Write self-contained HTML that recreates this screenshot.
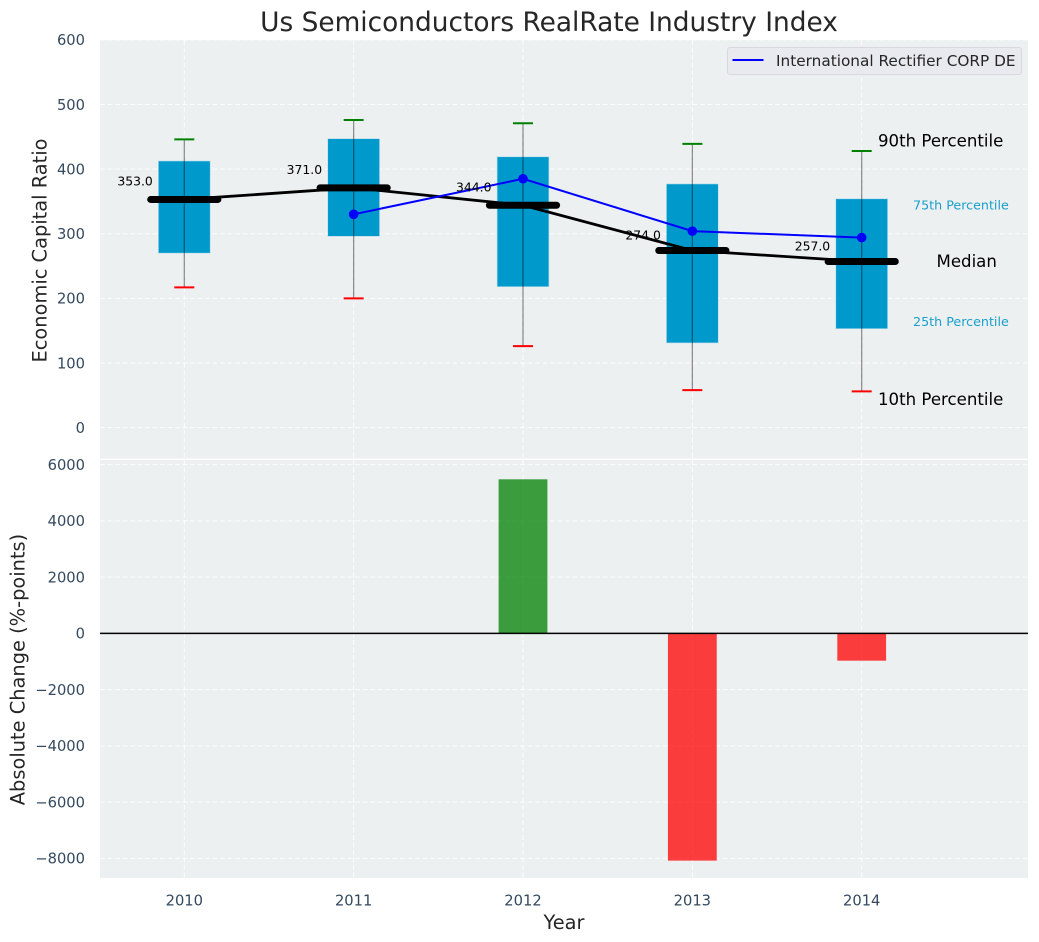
<!DOCTYPE html>
<html>
<head>
<meta charset="utf-8">
<title>Us Semiconductors RealRate Industry Index</title>
<style>
html,body{margin:0;padding:0;background:#fff;}
svg{display:block;font-family:"DejaVu Sans","Liberation Sans",sans-serif;}
</style>
</head>
<body>
<svg id="chart" xmlns="http://www.w3.org/2000/svg" width="1039" height="942" viewBox="0 0 1039 942">
<rect x="0" y="0" width="1039" height="942" fill="#ffffff"/>
<text x="549" y="31" text-anchor="middle" font-size="26.4px" fill="#262626">Us Semiconductors RealRate Industry Index</text>
<rect x="100" y="40" width="928" height="418.5" fill="#ecf0f1"/>
<rect x="100" y="460" width="928" height="418" fill="#ecf0f1"/>
<g id="grid"></g>
<g id="bars"></g>
<g id="boxes"></g>
<g id="lines"></g>
<g id="labels"></g>
<text transform="translate(46.5,250.5) rotate(-90)" text-anchor="middle" font-size="19.4px" fill="#262626">Economic Capital Ratio</text>
<text transform="translate(24.5,669.5) rotate(-90)" text-anchor="middle" font-size="19.4px" fill="#262626">Absolute Change (%-points)</text>
<text x="564" y="929" text-anchor="middle" font-size="19.4px" fill="#262626">Year</text>
<g>
<rect x="727.5" y="47.5" width="294" height="27" rx="2.5" fill="#e9eaf0" stroke="#d8d8de" stroke-width="1"/>
<line x1="732.5" y1="60" x2="763.5" y2="60" stroke="#0000ff" stroke-width="2"/>
<text x="776" y="66" font-size="15.3px" fill="#262626">International Rectifier CORP DE</text>
</g>
</svg>
<script>
const years = [2010, 2011, 2012, 2013, 2014];
const p10 = [217, 200, 126, 58, 56];
const p25 = [270, 296, 218, 131, 153];
const medians = [353, 371, 344, 274, 257];
const p75 = [412.5, 447, 419, 377, 354];
const p90 = [446, 476, 471, 439, 428];
const companyYears = [2011, 2012, 2013, 2014];
const companyValues = [330, 385, 304, 294];
const changeYears = [2012, 2013, 2014];
const changeValues = [5480, -8080, -970];
const topTicks = [0, 100, 200, 300, 400, 500, 600];
const bottomTicks = [-8000, -6000, -4000, -2000, 0, 2000, 4000, 6000];

const NS = 'http://www.w3.org/2000/svg';
function x(v){ return 184.3 + (v - 2010) * 169.35; }
function yTop(v){ return 427.6 - v * 0.6463; }
function yBottom(v){ return 633.4 - v * 0.02812; }
function make(parent, tag, props, text){
  const el = document.createElementNS(NS, tag);
  for (const k in props) el.setAttribute(k, props[k]);
  if (text !== undefined) el.textContent = text;
  parent.appendChild(el);
  return el;
}
const gGrid = document.getElementById('grid');
const gBars = document.getElementById('bars');
const gBoxes = document.getElementById('boxes');
const gLines = document.getElementById('lines');
const gLabels = document.getElementById('labels');
const gridStyle = {stroke:'#ffffff','stroke-width':1,'stroke-dasharray':'5 2.5','stroke-opacity':0.85};

topTicks.forEach(function(t){
  const gl = make(gGrid, 'line', Object.assign({x1:100,x2:1028,y1:yTop(t),y2:yTop(t)}, gridStyle));
  
  
  const lb = make(gLabels, 'text', {x:85,y:yTop(t)+5.3,'text-anchor':'end','font-size':'14.7px',fill:'#34495e'}, String(t));
  
  
});
bottomTicks.forEach(function(t){
  const gl = make(gGrid, 'line', Object.assign({x1:100,x2:1028,y1:yBottom(t),y2:yBottom(t)}, gridStyle));
  
  
  const lb = make(gLabels, 'text', {x:85,y:yBottom(t)+5.3,'text-anchor':'end','font-size':'14.7px',fill:'#34495e'}, String(t).replace('-', '\u2212'));
  
  
});
years.forEach(function(yr){
  const g1 = make(gGrid, 'line', Object.assign({x1:x(yr),x2:x(yr),y1:40,y2:458.5}, gridStyle));
  
  
  const g2 = make(gGrid, 'line', Object.assign({x1:x(yr),x2:x(yr),y1:460,y2:878}, gridStyle));
  
  
  const lb = make(gLabels, 'text', {x:x(yr),y:905.3,'text-anchor':'middle','font-size':'14.7px',fill:'#34495e'}, String(yr));
  
  
});

changeYears.forEach(function(yr, i){
  const v = changeValues[i];
  const bar = make(gBars, 'rect', {
    x:x(yr)-24.4, width:48.8,
    y:Math.min(yBottom(v), yBottom(0)),
    height:Math.abs(yBottom(v)-yBottom(0)),
    fill:v >= 0 ? '#008000' : '#ff0000', 'fill-opacity':0.75
  });
  
  
});
const zero = make(gBars, 'line', {x1:100,x2:1028,y1:yBottom(0),y2:yBottom(0),stroke:'#000000','stroke-width':1.5});



years.forEach(function(yr, i){
  const cx = x(yr);
  const box = make(gBoxes, 'rect', {x:cx-25.9,width:51.8,y:yTop(p75[i]),height:yTop(p25[i])-yTop(p75[i]),fill:'#0099cc',stroke:'#b5dcea','stroke-width':0.6});
  
  
  const whisker = make(gBoxes, 'line', {x1:cx,x2:cx,y1:yTop(p10[i]),y2:yTop(p90[i]),stroke:'#000000','stroke-opacity':0.45,'stroke-width':1.2});
  
  
  const capHi = make(gBoxes, 'line', {x1:cx-10,x2:cx+10,y1:yTop(p90[i]),y2:yTop(p90[i]),stroke:'#008000','stroke-width':2});
  
  
  const capLo = make(gBoxes, 'line', {x1:cx-10,x2:cx+10,y1:yTop(p10[i]),y2:yTop(p10[i]),stroke:'#ff0000','stroke-width':2});
  
  
});

const medianLine = make(gLines, 'polyline', {
  points:years.map(function(yr, i){ return x(yr)+','+yTop(medians[i]); }).join(' '),
  fill:'none',stroke:'#000000','stroke-width':2.8
});



years.forEach(function(yr, i){
  const bar = make(gLines, 'line', {x1:x(yr)-33.6,x2:x(yr)+33.6,y1:yTop(medians[i]),y2:yTop(medians[i]),stroke:'#000000','stroke-width':7,'stroke-linecap':'round'});
  
  
});

const companyLine = make(gLines, 'polyline', {
  points:companyYears.map(function(yr, i){ return x(yr)+','+yTop(companyValues[i]); }).join(' '),
  fill:'none',stroke:'#0000ff','stroke-width':2
});


companyYears.forEach(function(yr, i){
  const dot = make(gLines, 'circle', {cx:x(yr),cy:yTop(companyValues[i]),r:4.8,fill:'#0000ff'});
  
  
});

years.forEach(function(yr, i){
  const lift = medians[i] > 300 ? 14 : 11;
  const lb = make(gLabels, 'text', {x:x(yr)-31.5,y:yTop(medians[i])-lift,'text-anchor':'end','font-size':'12.4px',fill:'#000000'}, medians[i].toFixed(1));
  
  
});

const last = years.length - 1;
const a90 = make(gLabels, 'text', {x:878,y:yTop(p90[last])-4.5,'font-size':'16.6px',fill:'#000000'}, '90th Percentile');


const a75 = make(gLabels, 'text', {x:913,y:yTop(p75[last])+10.5,'font-size':'12.7px',fill:'#1a9fcc'}, '75th Percentile');


const a50 = make(gLabels, 'text', {x:966.7,y:yTop(medians[last])+5.5,'text-anchor':'middle','font-size':'16.6px',fill:'#000000'}, 'Median');


const a25 = make(gLabels, 'text', {x:913,y:yTop(p25[last])-2.5,'font-size':'12.7px',fill:'#1a9fcc'}, '25th Percentile');


const a10 = make(gLabels, 'text', {x:878,y:yTop(p10[last])+13.5,'font-size':'16.6px',fill:'#000000'}, '10th Percentile');


</script>
</body>
</html>
